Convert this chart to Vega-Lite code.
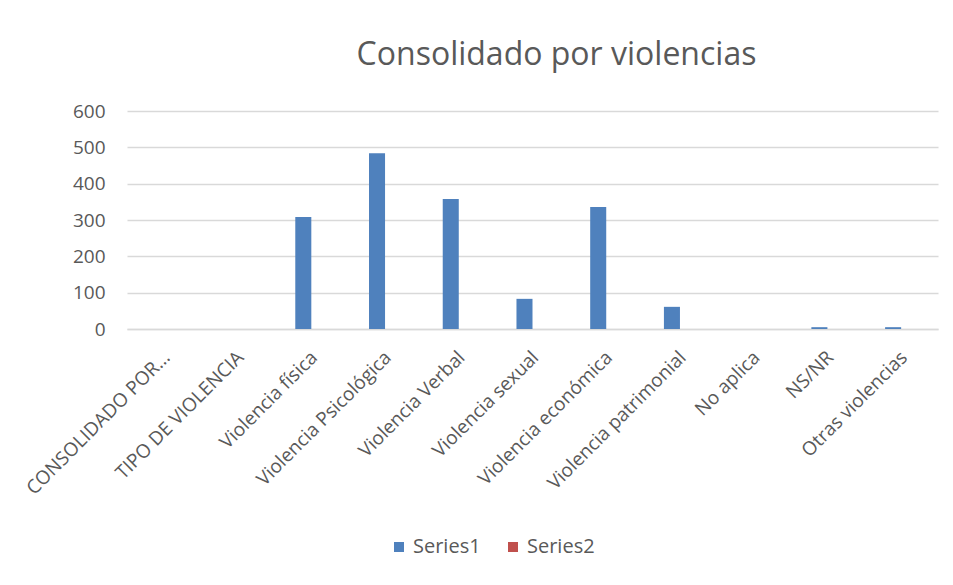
{
  "$schema": "https://vega.github.io/schema/vega-lite/v6.json",
  "autosize": {"type": "none"},
  "padding": {"left": 127, "top": 111, "right": 15, "bottom": 256},
  "width": 811,
  "height": 218,
  "background": "white",
  "config": {
    "view": {"stroke": null},
    "font": "Open Sans"
  },
  "title": {
    "text": "Consolidado por violencias",
    "font": "Open Sans",
    "fontSize": 32,
    "fontWeight": "normal",
    "color": "#595959",
    "anchor": "middle",
    "frame": "group",
    "dx": 24,
    "baseline": "alphabetic",
    "offset": 5
  },
  "data": {
    "values": [
      {"categoria": "CONSOLIDADO POR...", "serie": "Series1", "valor": 0},
      {"categoria": "TIPO DE VIOLENCIA", "serie": "Series1", "valor": 0},
      {"categoria": "Violencia física", "serie": "Series1", "valor": 308},
      {"categoria": "Violencia Psicológica", "serie": "Series1", "valor": 484},
      {"categoria": "Violencia Verbal", "serie": "Series1", "valor": 358},
      {"categoria": "Violencia sexual", "serie": "Series1", "valor": 83},
      {"categoria": "Violencia económica", "serie": "Series1", "valor": 336},
      {"categoria": "Violencia patrimonial", "serie": "Series1", "valor": 61},
      {"categoria": "No aplica", "serie": "Series1", "valor": 0},
      {"categoria": "NS/NR", "serie": "Series1", "valor": 5},
      {"categoria": "Otras violencias", "serie": "Series1", "valor": 5}
    ]
  },
  "mark": {"type": "bar"},
  "encoding": {
    "x": {
      "field": "categoria",
      "type": "nominal",
      "sort": null,
      "scale": {
        "domain": ["CONSOLIDADO POR...", "TIPO DE VIOLENCIA", "Violencia física", "Violencia Psicológica", "Violencia Verbal", "Violencia sexual", "Violencia económica", "Violencia patrimonial", "No aplica", "NS/NR", "Otras violencias"],
        "paddingInner": 0.565,
        "paddingOuter": 0.2825
      },
      "axis": {
        "title": null,
        "labelAngle": -45,
        "labelAlign": "right",
        "labelBaseline": "middle",
        "labelFont": "Open Sans",
        "labelFontSize": 19,
        "labelColor": "#595959",
        "labelOffset": 3,
        "labelPadding": 25,
        "labelLimit": 300,
        "ticks": false,
        "domainColor": "#d9d9d9",
        "domainWidth": 1.3,
        "grid": false
      }
    },
    "xOffset": {
      "field": "serie",
      "type": "nominal",
      "scale": {"domain": ["Series1", "Series2"], "paddingInner": 0, "paddingOuter": 0}
    },
    "y": {
      "field": "valor",
      "type": "quantitative",
      "scale": {"domain": [0, 600], "nice": false},
      "axis": {
        "title": null,
        "values": [0, 100, 200, 300, 400, 500, 600],
        "labelFont": "Open Sans",
        "labelFontSize": 19,
        "labelColor": "#595959",
        "labelPadding": 22,
        "ticks": false,
        "domain": false,
        "gridColor": "#d9d9d9",
        "gridWidth": 1.3
      }
    },
    "color": {
      "field": "serie",
      "type": "nominal",
      "scale": {"domain": ["Series1", "Series2"], "range": ["#4F81BD", "#C0504D"]},
      "legend": {
        "title": null,
        "orient": "none",
        "direction": "horizontal",
        "legendX": 262,
        "legendY": 426,
        "symbolType": "square",
        "symbolSize": 100,
        "symbolStrokeWidth": 0,
        "labelFont": "Open Sans",
        "labelFontSize": 20,
        "labelColor": "#595959",
        "columnPadding": 22,
        "labelOffset": 4
      }
    }
  }
}
